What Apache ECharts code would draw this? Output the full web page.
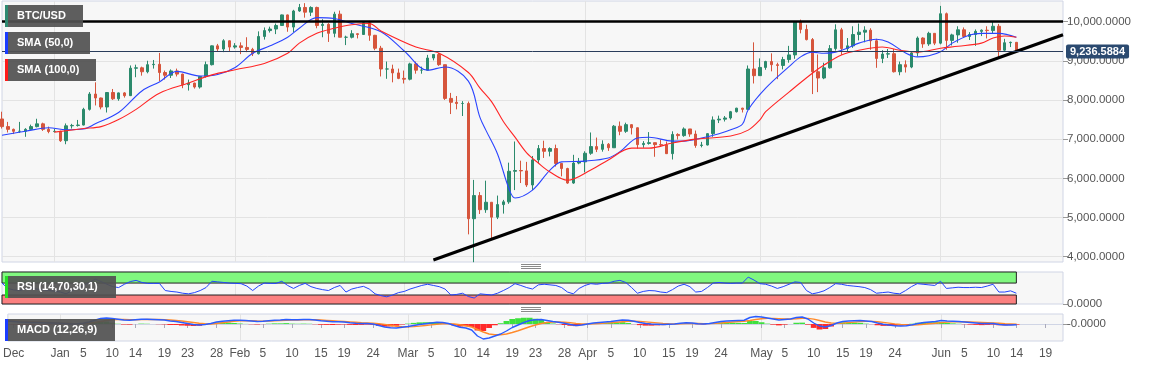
<!DOCTYPE html>
<html><head><meta charset="utf-8">
<script src="https://cdn.jsdelivr.net/npm/echarts@6/dist/echarts.min.js"></script>
<style>html,body{margin:0;padding:0;background:#fff}#c{width:1153px;height:367px}</style>
</head><body><div id="c"></div><script>
// ---- categories (daily, Dec 23 2019 .. Jun 22 2020) ----
const startDate = '2019-12-23', endDate = '2020-06-22';
const dates = [];
for (let d = new Date(startDate + 'T00:00:00Z'); d <= new Date(endDate + 'T00:00:00Z'); d.setUTCDate(d.getUTCDate() + 1)) dates.push(d.toISOString().slice(0, 10));

// ---- BTC/USD daily candles (from 2019-12-23) ----
const opens = [7515,7320,7250,7200,7200,7250,7320,7390,7250,7195,
 7200,6960,7340,7350,7360,7760,8150,8050,7820,8190,
 8030,8180,8110,8810,8820,8720,8900,8910,8700,8630,
 8740,8660,8390,8430,8330,8600,8900,9380,9300,9510,
 9350,9380,9340,9290,9180,9620,9770,9810,9900,10170,
 9860,10270,10360,10240,10360,9900,9930,9700,10190,9600,
 9600,9690,9670,9970,9650,9320,8790,8790,8690,8550,
 8530,8920,8760,8760,9070,9160,8900,8040,7940,7910,
 7910,4970,5560,5200,5390,5010,5330,5400,6180,6200,
 6190,5830,6470,6760,6690,6760,6380,6250,5880,6390,
 6420,6640,6810,6740,6870,6780,7330,7200,7370,7290,
 6860,6890,6910,6860,6850,6630,7120,7090,7260,7130,
 6840,6850,7140,7490,7510,7540,7700,7790,7760,8790,
 8620,8830,8980,8900,8880,9030,9150,9990,9800,9540,
 8720,8560,8820,9310,9790,9310,9380,9670,9730,9780,
 9510,9060,9170,9180,8720,8900,8840,9200,9580,9430,
 9700,9450,10200,9520,9660,9790,9620,9670,9750,9780,
 9770,9880,9270,9460,9470];
const highs = [7700,7440,7270,7440,7280,7370,7520,7420,7320,7260,
 7215,7400,7390,7490,7800,8200,8450,8060,8190,8280,
 8190,8200,8880,8900,8850,9000,9020,9200,8750,8780,
 8800,8670,8520,8440,8600,8980,9390,9430,9550,9520,
 9450,9470,9600,9330,9750,9850,9870,9950,10180,10180,
 10300,10450,10470,10390,10380,10060,9960,10250,10280,9640,
 9780,9700,10000,10020,9660,9380,8980,8900,8800,8750,
 8950,8980,8850,9150,9170,9200,8900,8180,8100,7970,
 7960,5960,5650,5940,5390,5560,5450,6400,6940,6450,
 6420,6570,6850,6960,6790,6860,6390,6270,6600,6520,
 6690,7170,7040,6970,6900,7360,7450,7420,7380,7300,
 6950,7180,6910,6990,6940,7200,7150,7300,7260,7220,
 6930,7150,7580,7600,7590,7720,7800,7800,8880,9470,
 9060,9000,9190,8950,9100,9380,10000,10050,9920,9580,
 9160,8950,9400,9930,9840,9580,9880,9950,9880,9830,
 9560,9270,9300,9300,8980,9010,9220,9620,9600,9740,
 9700,10400,10230,9690,9880,9850,9730,9800,9800,9880,
 9990,9940,9560,9490,9480];
const lows = [7270,7170,7130,7160,7060,7250,7300,7210,7150,7170,
 6930,6870,7270,7320,7350,7730,7860,7760,7680,8000,
 7980,8060,8100,8580,8620,8680,8800,8480,8520,8560,
 8600,8300,8240,8290,8290,8570,8880,9250,9220,9250,
 9310,9170,9220,9120,9160,9540,9720,9680,9890,9740,
 9730,10250,10100,10140,9830,9600,9480,9600,9600,9400,
 9570,9570,9660,9510,9270,8600,8540,8450,8530,8420,
 8500,8670,8670,8760,9010,8870,8000,7640,7760,7590,
 4570,3860,5090,5120,4450,4960,5100,5350,5700,5880,
 5780,5700,6380,6520,6560,6300,6050,5860,5860,6360,
 6150,6600,6670,6680,6700,6780,7100,7160,7120,6760,
 6780,6860,6550,6800,6620,6480,6990,7060,7060,6780,
 6790,6840,7060,7410,7450,7500,7680,7680,7750,8420,
 8620,8770,8730,8530,8780,8950,9050,9700,9520,8150,
 8200,8530,8800,9260,9150,9230,9330,9520,9470,9280,
 8820,8940,9070,8700,8630,8700,8810,9110,9330,9380,
 9400,9420,9280,9390,9460,9590,9530,9380,9630,9570,
 9690,9080,9240,9350,9220];
const closes = [7320,7250,7200,7200,7250,7320,7390,7250,7195,7200,
 6960,7340,7350,7360,7760,8150,8050,7820,8190,8030,
 8180,8110,8810,8820,8720,8900,8910,8700,8630,8740,
 8660,8390,8430,8330,8600,8900,9380,9300,9510,9350,
 9380,9340,9290,9180,9620,9770,9810,9900,10170,9860,
 10270,10360,10240,10360,9900,9930,9700,10190,9600,9600,
 9690,9670,9970,9650,9320,8790,8790,8690,8550,8530,
 8920,8760,8760,9070,9160,8900,8040,7940,7910,7910,
 4970,5560,5200,5390,5010,5330,5400,6180,6200,6190,
 5830,6470,6760,6690,6760,6380,6250,5880,6390,6420,
 6640,6810,6740,6870,6780,7330,7200,7370,7290,6860,
 6890,6910,6860,6850,6630,7120,7090,7260,7130,6840,
 6850,7140,7490,7510,7540,7700,7790,7760,8790,8620,
 8830,8980,8900,8880,9030,9150,9990,9800,9540,8720,
 8560,8820,9310,9790,9310,9380,9670,9730,9780,9510,
 9060,9170,9180,8720,8900,8840,9200,9580,9430,9700,
 9450,10200,9520,9660,9790,9620,9670,9750,9780,9770,
 9880,9270,9460,9470,9237];
const lastPrice = 9236.5884;
const resistanceLevel = 10000;

// ---- moving averages [date, value] ----
const sma50 = [['2019-12-23',7100],['2019-12-27',7200],['2019-12-31',7290],['2020-01-03',7240],['2020-01-06',7260],['2020-01-08',7390],['2020-01-12',7680],['2020-01-16',8230],['2020-01-19',8460],['2020-01-22',8730],['2020-01-26',8610],['2020-01-29',8650],['2020-02-01',8830],['2020-02-04',9190],['2020-02-07',9380],['2020-02-10',9600],['2020-02-12',9830],['2020-02-15',10100],['2020-02-18',10080],['2020-02-21',9950],['2020-02-26',9740],['2020-03-01',9250],['2020-03-05',8760],['2020-03-08',8840],['2020-03-12',8480],['2020-03-14',7550],['2020-03-15',7230],['2020-03-17',6620],['2020-03-19',5720],['2020-03-20',5500],['2020-03-23',5700],['2020-03-26',6210],['2020-03-28',6420],['2020-04-01',6440],['2020-04-05',6520],['2020-04-07',6680],['2020-04-10',7030],['2020-04-12',7050],['2020-04-16',6950],['2020-04-18',6950],['2020-04-21',7030],['2020-04-24',7140],['2020-04-26',7240],['2020-04-28',7380],['2020-04-29',7750],['2020-05-02',8300],['2020-05-06',8850],['2020-05-08',9100],['2020-05-10',9220],['2020-05-12',9190],['2020-05-14',9220],['2020-05-16',9320],['2020-05-18',9450],['2020-05-21',9550],['2020-05-23',9480],['2020-05-26',9200],['2020-05-28',9100],['2020-05-30',9130],['2020-06-01',9230],['2020-06-03',9450],['2020-06-06',9660],['2020-06-08',9700],['2020-06-11',9700],['2020-06-14',9600]];
const sma100 = [['2020-01-01',7180],['2020-01-06',7270],['2020-01-09',7320],['2020-01-12',7500],['2020-01-15',7760],['2020-01-19',8170],['2020-01-24',8430],['2020-01-28',8640],['2020-02-01',8770],['2020-02-06',8930],['2020-02-10',9190],['2020-02-12',9450],['2020-02-15',9700],['2020-02-18',9830],['2020-02-21',9920],['2020-02-24',9950],['2020-02-26',9760],['2020-03-03',9350],['2020-03-07',9190],['2020-03-12',8700],['2020-03-14',8300],['2020-03-16',7950],['2020-03-18',7450],['2020-03-20',7050],['2020-03-22',6650],['2020-03-24',6390],['2020-03-26',6160],['2020-03-29',5950],['2020-04-02',6210],['2020-04-05',6470],['2020-04-09',6770],['2020-04-12',6770],['2020-04-16',6900],['2020-04-20',7000],['2020-04-26',7080],['2020-04-29',7230],['2020-05-01',7490],['2020-05-02',7700],['2020-05-06',8200],['2020-05-10',8680],['2020-05-12',8890],['2020-05-15',9150],['2020-05-18',9270],['2020-05-22',9350],['2020-05-25',9270],['2020-05-28',9220],['2020-06-01',9320],['2020-06-04',9370],['2020-06-08',9450],['2020-06-10',9580],['2020-06-12',9630],['2020-06-14',9600]];
const trendLine = [['2020-03-06',3916],['2020-06-22',9663]];

// ---- RSI (14,70,30) daily ----
const rsi = [70,52,47,45,50,52,50,47,45,43,
 40,34,45,52,62,72,83,75,66,58,
 55,66,75,79,72,69,69,69,45,42,
 40,36,34,38,45,55,76,74,72,70,
 69,68,60,45,60,70,69,69,76,62,
 52,62,69,58,52,48,45,55,62,40,
 50,55,59,50,34,28,24,30,38,42,
 50,56,62,66,62,58,50,30,32,36,
 25,20,34,32,30,36,45,55,68,62,
 55,50,64,66,64,62,55,40,34,52,
 62,68,66,69,70,76,79,72,55,36,
 42,45,44,40,38,48,60,66,58,40,
 42,55,70,72,70,69,70,70,90,80,
 68,66,60,52,58,66,74,72,45,34,
 38,44,55,68,66,62,60,58,55,48,
 36,38,40,36,34,45,58,68,66,64,
 62,76,52,54,56,55,55,56,55,60,
 66,40,40,44,36];
const rsiBands = {upper: 70, lower: 30};

// ---- MACD (12,26,9) daily ----
const macd = [120,100,80,70,60,60,50,40,40,30,
 20,0,10,30,80,150,220,240,220,190,
 160,150,170,190,190,180,170,160,120,100,
 60,20,-20,-40,-20,20,80,110,130,150,
 150,140,120,100,110,130,150,160,180,170,
 170,180,180,160,130,110,90,90,80,50,
 30,20,20,0,-60,-120,-150,-160,-130,-100,
 -60,-20,10,40,70,60,20,-60,-130,-160,
 -240,-480,-600,-560,-480,-400,-280,-140,-40,60,
 140,170,180,140,100,70,30,-20,-60,-40,
 0,40,60,80,100,130,160,150,110,60,
 20,0,-10,-20,-10,0,30,50,40,10,
 0,20,60,100,120,130,140,150,260,300,
 280,240,200,160,180,200,260,280,200,40,
 -80,-120,-60,40,100,120,130,140,120,100,
 40,-10,-40,-70,-80,-70,-30,20,60,80,
 100,140,120,110,100,80,60,40,20,20,
 20,-20,-40,-40,-30];
const signal = [130,120,110,100,90,80,70,60,50,40,
 30,20,15,15,30,60,100,140,170,180,
 180,175,170,175,180,180,178,175,160,140,
 120,90,60,30,10,0,20,50,80,110,
 130,135,130,120,115,118,125,135,145,155,
 160,165,170,170,160,145,130,115,100,85,
 70,55,45,35,15,-15,-50,-90,-110,-115,
 -105,-85,-60,-35,-10,10,15,0,-30,-70,
 -120,-220,-320,-400,-430,-430,-400,-340,-270,-190,
 -110,-40,20,60,80,80,70,50,25,5,
 0,5,20,35,50,70,90,110,115,105,
 85,65,45,25,10,0,5,15,25,20,
 15,15,25,40,60,80,95,110,140,180,
 210,225,225,215,205,200,210,225,225,195,
 140,80,40,25,35,55,75,95,105,105,
 90,65,35,5,-20,-35,-40,-30,-10,10,
 30,55,75,85,90,90,85,75,65,55,
 45,30,15,5,-5];
const histogram = [-10,-20,-30,-30,-30,-20,-20,-20,-10,-10,
 -10,-20,-5,15,50,90,120,100,50,10,
 -20,-25,0,15,10,0,-8,-15,-40,-40,
 -60,-70,-80,-70,-30,20,60,60,50,40,
 20,5,-10,-20,-5,12,25,25,35,15,
 10,15,10,-10,-30,-35,-40,-25,-20,-35,
 -40,-35,-25,-35,-75,-105,-100,-70,-20,15,
 45,65,70,75,80,50,5,-60,-100,-90,
 -120,-260,-280,-160,-50,30,120,200,230,250,
 250,210,160,80,20,-10,-40,-70,-85,-45,
 0,35,40,45,50,60,70,40,-5,-45,
 -65,-65,-55,-45,-20,0,25,35,15,-10,
 -15,5,35,60,60,50,45,40,120,120,
 70,15,-25,-55,-25,0,50,55,-25,-155,
 -220,-200,-100,15,65,65,55,45,15,-5,
 -50,-75,-75,-75,-60,-35,10,50,70,70,
 70,85,45,25,10,-10,-25,-35,-45,-35,
 -25,-50,-55,-45,-25];

// ---- axis labels ----
const priceTicks = [4000,5000,6000,7000,8000,9000,10000];
const tickLabels = [['2019-12-24','Dec'],['2020-01-01','Jan'],['2020-01-05','5'],['2020-01-10','10'],['2020-01-14','14'],['2020-01-19','19'],['2020-01-23','23'],['2020-01-28','28'],
 ['2020-02-01','Feb'],['2020-02-05','5'],['2020-02-10','10'],['2020-02-15','15'],['2020-02-19','19'],['2020-02-24','24'],
 ['2020-03-01','Mar'],['2020-03-05','5'],['2020-03-10','10'],['2020-03-14','14'],['2020-03-19','19'],['2020-03-23','23'],['2020-03-28','28'],
 ['2020-04-01','Apr'],['2020-04-05','5'],['2020-04-10','10'],['2020-04-15','15'],['2020-04-19','19'],['2020-04-24','24'],
 ['2020-05-01','May'],['2020-05-05','5'],['2020-05-10','10'],['2020-05-15','15'],['2020-05-19','19'],['2020-05-24','24'],
 ['2020-06-01','Jun'],['2020-06-05','5'],['2020-06-10','10'],['2020-06-14','14'],['2020-06-19','19']];

// ---- build ----
const labelMap = new Map(tickLabels);
const nData = closes.length;
const candles = opens.map((o, i) => [o, closes[i], lows[i], highs[i]]);
const fmt4 = v => Number(v).toLocaleString('en-US', {minimumFractionDigits: 4, maximumFractionDigits: 4});
const isMonthStart = (i, v) => v.slice(8) === '01';
const GRID_BG = '#f7f7f7', GRID_BORDER = '#d0d5e5', SPLIT = '#e3e3e3', LABEL = '#555';

function xAx(gi, showLabels) {
  return {
    type: 'category', gridIndex: gi, data: dates, boundaryGap: false,
    axisLine: {show: showLabels, lineStyle: {color: GRID_BORDER}},
    axisTick: {show: showLabels, interval: (i, v) => labelMap.has(v), length: 4, lineStyle: {color: '#aab'}},
    axisLabel: {show: showLabels, interval: (i, v) => labelMap.has(v), formatter: v => labelMap.get(v) || '', color: LABEL, fontSize: 12, fontFamily: 'Arial', margin: 7},
    splitLine: {show: true, interval: isMonthStart, lineStyle: {color: SPLIT, width: 1}}
  };
}
function legendBox(top, w, barColor, text) {
  return {type: 'group', left: 5, top: top, z: 100, children: [
    {type: 'rect', z: 100, shape: {x: 0, y: 0, width: w, height: 22}, style: {fill: 'rgba(82,82,82,0.93)'}},
    {type: 'rect', z: 101, shape: {x: 0, y: 0, width: 3, height: 22}, style: {fill: barColor}},
    {type: 'text', z: 102, x: 12, y: 11, style: {text: text, fill: '#fff', font: 'bold 11px Arial', verticalAlign: 'middle', textVerticalAlign: 'middle'}}
  ]};
}
function grip(top) {
  return {type: 'group', left: 521, top: top, z: 100, children: [0, 2, 4].map(y => ({type: 'rect', z: 100, shape: {x: 0, y: y, width: 20, height: 1}, style: {fill: '#8a8a8a'}}))};
}

const option = {
  animation: false,
  backgroundColor: '#fff',
  grid: [
    {left: 2, right: 90, top: 1, height: 261, show: true, backgroundColor: GRID_BG, borderColor: GRID_BORDER, borderWidth: 1},
    {left: 2, right: 90, top: 272, height: 32, show: true, backgroundColor: GRID_BG, borderColor: GRID_BORDER, borderWidth: 1},
    {left: 2, right: 90, top: 314, height: 27, show: true, backgroundColor: GRID_BG, borderColor: GRID_BORDER, borderWidth: 1}
  ],
  xAxis: [xAx(0, false), xAx(1, false), xAx(2, true)],
  yAxis: [
    {type: 'value', gridIndex: 0, position: 'right', min: 3865, max: 10525, scale: true,
      axisLine: {show: false},
      axisTick: {show: true, customValues: priceTicks, length: 5, lineStyle: {color: '#999'}},
      axisLabel: {customValues: priceTicks, formatter: fmt4, color: LABEL, fontSize: 11.5, fontFamily: 'Arial', margin: 4},
      splitLine: {show: true, lineStyle: {color: SPLIT}}},
    {type: 'value', gridIndex: 1, position: 'right', min: 0, max: 107,
      axisLine: {show: false},
      axisTick: {show: true, customValues: [0], length: 5, lineStyle: {color: '#999'}},
      axisLabel: {customValues: [0], formatter: fmt4, color: LABEL, fontSize: 11.5, fontFamily: 'Arial', margin: 4},
      splitLine: {show: false}},
    {type: 'value', gridIndex: 2, position: 'right', min: -680, max: 400,
      axisLine: {show: false},
      axisTick: {show: true, customValues: [-0.00001], length: 5, lineStyle: {color: '#999'}},
      axisLabel: {customValues: [-0.00001], formatter: v => Number(v).toFixed(4), color: LABEL, fontSize: 11.5, fontFamily: 'Arial', margin: 4},
      splitLine: {show: false}}
  ],
  graphic: [
    legendBox(5, 78, '#2e8a72', 'BTC/USD'),
    legendBox(32, 85, '#1a3cff', 'SMA (50,0)'),
    legendBox(59, 91, '#ff1a1a', 'SMA (100,0)'),
    legendBox(276, 111, '#22e022', 'RSI (14,70,30,1)'),
    legendBox(319, 110, '#1a3cff', 'MACD (12,26,9)'),
    grip(264), grip(307)
  ],
  series: [
    {type: 'candlestick', name: 'BTC/USD', xAxisIndex: 0, yAxisIndex: 0, data: candles, barWidth: 3, z: 2,
      itemStyle: {color: '#2b8a6c', color0: '#d6553c', borderColor: '#2b8a6c', borderColor0: '#d6553c', borderWidth: 1},
      markLine: {silent: true, symbol: ['none', 'none'], animation: false,
        data: [
          {yAxis: resistanceLevel, lineStyle: {color: '#000', width: 2.5, type: 'solid'}, label: {show: false}},
          {yAxis: lastPrice, lineStyle: {color: '#2a3d5c', width: 1, type: 'solid'},
            label: {show: true, position: 'end', formatter: () => fmt4(lastPrice), color: '#fff', fontWeight: 'bold', fontSize: 11, fontFamily: 'Arial',
              backgroundColor: '#2b4a70', padding: [2, 4, 1, 4], borderRadius: 2, distance: 3}}
        ]}},
    {type: 'line', name: 'SMA (50,0)', xAxisIndex: 0, yAxisIndex: 0, data: sma50, showSymbol: false, smooth: 0.35, z: 3,
      lineStyle: {color: '#2a44ff', width: 1.1}},
    {type: 'line', name: 'SMA (100,0)', xAxisIndex: 0, yAxisIndex: 0, data: sma100, showSymbol: false, smooth: 0.35, z: 3,
      lineStyle: {color: '#ff2424', width: 1.1}},
    {type: 'line', name: 'Trend', xAxisIndex: 0, yAxisIndex: 0, data: trendLine, showSymbol: false, z: 4,
      lineStyle: {color: '#000', width: 3}},
    {type: 'line', name: 'RSI bands', xAxisIndex: 1, yAxisIndex: 1, data: [], z: 1,
      markArea: {silent: true, data: [
        [{xAxis: dates[0], yAxis: rsiBands.upper, itemStyle: {color: '#80f77f', borderColor: '#222', borderWidth: 1}}, {xAxis: dates[nData - 1], yAxis: 107}],
        [{xAxis: dates[0], yAxis: 0, itemStyle: {color: '#fb8080', borderColor: '#222', borderWidth: 1}}, {xAxis: dates[nData - 1], yAxis: rsiBands.lower}]
      ]}},
    {type: 'line', name: 'RSI', xAxisIndex: 1, yAxisIndex: 1, data: rsi, showSymbol: false, z: 3,
      lineStyle: {color: '#2244ff', width: 1}},
    {type: 'bar', name: 'Histogram', xAxisIndex: 2, yAxisIndex: 2, data: histogram, barCategoryGap: '0%', z: 2,
      itemStyle: {color: p => p.value >= 0 ? '#3ee03e' : '#ff2a2a'}},
    {type: 'line', name: 'Signal', xAxisIndex: 2, yAxisIndex: 2, data: signal, showSymbol: false, z: 3,
      lineStyle: {color: '#ff8a2a', width: 1.4}},
    {type: 'line', name: 'MACD', xAxisIndex: 2, yAxisIndex: 2, data: macd, showSymbol: false, z: 4,
      lineStyle: {color: '#2a5cff', width: 1.4}}
  ]
};
const chart = echarts.init(document.getElementById('c'), null, {renderer: 'canvas'});
chart.setOption(option);
</script></body></html>
